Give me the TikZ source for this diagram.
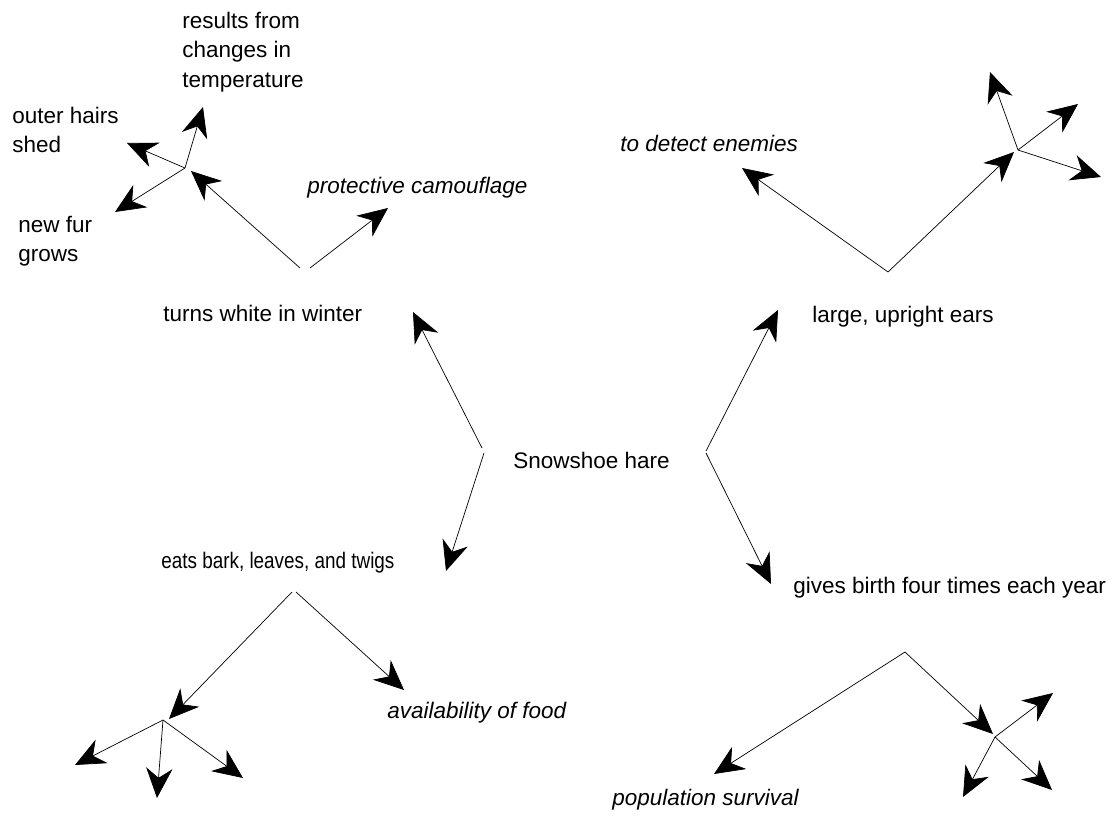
\documentclass[tikz,border=0pt]{standalone}
\usepackage{fontspec}
\setmainfont{Liberation Sans}
\usetikzlibrary{arrows.meta}

\begin{document}
\begin{tikzpicture}[x=0.02cm,y=-0.02cm,
    txt/.style={anchor=west,inner sep=0pt,align=left,
      font=\fontsize{12.8}{16.8}\selectfont},
    ital/.style={txt,font=\fontsize{12.8}{16.8}\selectfont\itshape},
    arr/.style={-{Stealth[length=17pt,width=15pt,inset=5.5pt]},line width=0.4pt}]
      % Fix the page to the size of the reference
      \useasboundingbox (0,0) rectangle (1118,821);

      % Place the text nodes
      \node[txt] (hare) at (513,460) {Snowshoe hare};
      \node[txt] (winter) at (163,313) {turns white in winter};
      \node[txt] (ears) at (812,317) {large, upright ears};
      \node[txt,font=\fontsize{12.8}{16.8}\selectfont\addfontfeature{FakeStretch=0.84}]
        (bark) at (161,563) {eats bark, leaves, and twigs};
      \node[txt] (birth) at (793,588) {gives birth four times each year};
      \node[txt] (temp) at (182,52) {results from\\changes in\\temperature};
      \node[txt] (outer) at (12,130) {outer hairs\\shed};
      \node[txt] (newfur) at (18,241) {new fur\\grows};
      \node[ital] (camo) at (307,188) {protective camouflage};
      \node[ital] (enemies) at (620,143) {to detect enemies};
      \node[ital] (food) at (387,713) {availability of food};
      \node[ital] (survival) at (612,800) {population survival};

      % Points where the arrows start and end
      \coordinate (hare-w1) at (482,448);
      \coordinate (hare-w2) at (484,453);
      \coordinate (hare-e1) at (706,451);
      \coordinate (hare-e2) at (706,453);
      \coordinate (winter-v1) at (300,268);
      \coordinate (winter-v2) at (310,268);
      \coordinate (winter-j) at (185,168);
      \coordinate (ears-v) at (888,272);
      \coordinate (ears-j) at (1018,150);
      \coordinate (bark-v1) at (292,592);
      \coordinate (bark-v2) at (296,592);
      \coordinate (bark-j) at (163,720);
      \coordinate (birth-v) at (905,652);
      \coordinate (birth-j) at (995,737);

      \coordinate (to-winter) at (413,312);
      \coordinate (to-bark) at (446,571);
      \coordinate (to-ears) at (778,310);
      \coordinate (to-birth) at (771,584);
      \coordinate (to-winter-j) at (191,171);
      \coordinate (to-camo) at (388,208);
      \coordinate (to-temp) at (203,107);
      \coordinate (to-outer) at (127,143);
      \coordinate (to-newfur) at (115,212);
      \coordinate (to-enemies) at (742,168);
      \coordinate (to-ears-j) at (1014,152);
      \coordinate (to-bark-j) at (169,719);
      \coordinate (to-food) at (404,690);
      \coordinate (to-survival) at (714,774);
      \coordinate (to-birth-j) at (993,734);

      % Draw the arrows out of the centre
      \draw[arr] (hare-w1) -- (to-winter);
      \draw[arr] (hare-w2) -- (to-bark);
      \draw[arr] (hare-e1) -- (to-ears);
      \draw[arr] (hare-e2) -- (to-birth);

      % Draw the arrows out of each branch
      \draw[arr] (winter-v1) -- (to-winter-j);
      \draw[arr] (winter-v2) -- (to-camo);
      \draw[arr] (ears-v) -- (to-enemies);
      \draw[arr] (ears-v) -- (to-ears-j);
      \draw[arr] (bark-v1) -- (to-bark-j);
      \draw[arr] (bark-v2) -- (to-food);
      \draw[arr] (birth-v) -- (to-survival);
      \draw[arr] (birth-v) -- (to-birth-j);

      % Draw the small fans of arrows
      \foreach \tip in {to-temp,to-outer,to-newfur} {
        \draw[arr] (winter-j) -- (\tip);
      }
      \foreach \tip in {(990,72),(1078,104),(1101,177)} {
        \draw[arr] (ears-j) -- \tip;
      }
      \foreach \tip in {(75,765),(157,798),(243,778)} {
        \draw[arr] (bark-j) -- \tip;
      }
      \foreach \tip in {(1053,693),(963,797),(1052,790)} {
        \draw[arr] (birth-j) -- \tip;
      }
    \end{tikzpicture}
\end{document}
